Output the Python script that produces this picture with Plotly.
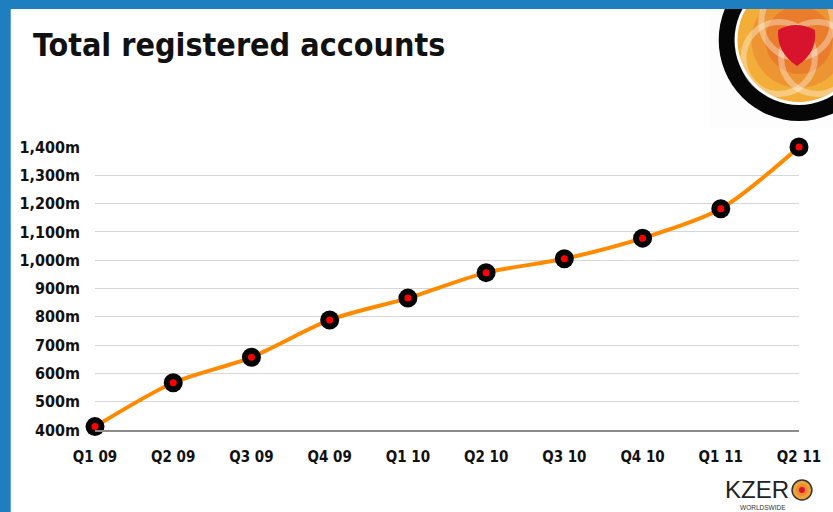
import plotly.graph_objects as go

quarters = ["Q1 09", "Q2 09", "Q3 09", "Q4 09", "Q1 10", "Q2 10", "Q3 10", "Q4 10", "Q1 11", "Q2 11"]
accounts_m = [412, 567, 657, 789, 866, 956, 1005, 1078, 1182, 1400]
y_ticks = [400, 500, 600, 700, 800, 900, 1000, 1100, 1200, 1300, 1400]
y_tick_labels = ["400m", "500m", "600m", "700m", "800m", "900m", "1,000m", "1,100m", "1,200m", "1,300m", "1,400m"]

W, H = 833, 512
L, R, T, B = 95, 28, 147, 82
PW, PH = W - L - R, H - T - B


def px(x):
    return (x - L) / PW


def py(y):
    return (H - B - y) / PH


FONT = "Arial Narrow, Liberation Sans Narrow, DejaVu Sans Condensed, Roboto Condensed, Roboto, sans-serif"

fig = go.Figure()
fig.add_trace(go.Scatter(
    x=quarters, y=accounts_m, mode="lines",
    line=dict(color="#ff8a00", width=4, shape="spline", smoothing=0.8),
    cliponaxis=False, hoverinfo="skip"))
fig.add_trace(go.Scatter(
    x=quarters, y=accounts_m, mode="markers",
    marker=dict(size=19, color="#050505", line=dict(width=0)),
    cliponaxis=False, hoverinfo="skip"))
fig.add_trace(go.Scatter(
    x=quarters, y=accounts_m, mode="markers",
    marker=dict(size=7, color="#ff0000", line=dict(width=0)),
    cliponaxis=False))

shapes = []


def circ(cx, cy, r, fill=None, line=None, lw=0, opacity=1.0, layer="above"):
    d = dict(type="circle", xref="paper", yref="paper",
             x0=px(cx - r), x1=px(cx + r), y0=py(cy + r), y1=py(cy - r),
             opacity=opacity, layer=layer,
             line=dict(width=lw, color=line if line else "rgba(0,0,0,0)"))
    if fill:
        d["fillcolor"] = fill
    shapes.append(d)


# faint logo backdrop
shapes.append(dict(type="rect", xref="paper", yref="paper",
                   x0=px(715), x1=px(840), y0=py(128), y1=py(0),
                   fillcolor="#fdfdfd", line=dict(width=0), layer="below"))
# big logo (top-right)
circ(805, 40, 81, fill="#060606")
circ(805, 40, 65, fill="#ffffff")
circ(805, 40, 62, fill="#f3ae3a")
circ(805, 40, 48, fill="#ee9533")
circ(805, 40, 34, fill="#e97d2c")
circ(803, 22, 36, line="#ffffff", lw=6, opacity=0.35)
circ(785, 58, 36, line="#ffffff", lw=6, opacity=0.35)
circ(823, 58, 36, line="#ffffff", lw=6, opacity=0.35)
# red central lens
shapes.append(dict(type="path", xref="paper", yref="paper",
                   path=(f"M {px(784)},{py(30)} Q {px(802)},{py(20)} {px(821)},{py(30)} "
                         f"Q {px(824)},{py(52)} {px(803)},{py(66)} "
                         f"Q {px(782)},{py(52)} {px(784)},{py(30)} Z"),
                   fillcolor="#d7142b", line=dict(width=0)))
# blue frame
shapes.append(dict(type="rect", xref="paper", yref="paper",
                   x0=px(-5), x1=px(840), y0=py(9), y1=py(-5),
                   fillcolor="#1d7fbf", line=dict(width=0)))
shapes.append(dict(type="rect", xref="paper", yref="paper",
                   x0=px(-5), x1=px(10), y0=py(520), y1=py(-5),
                   fillcolor="#1d7fbf", line=dict(width=0)))
# small KZERO logo "O"
circ(808, 490, 10, fill="#f0a23a", line="#333333", lw=1.5)
circ(808, 490, 6, fill="#ec8a30")
circ(808, 490, 3, fill="#d7142b")

annotations = [
    dict(text="Total registered accounts", xref="paper", yref="paper",
         x=px(30), y=py(45), xanchor="left", yanchor="middle", showarrow=False,
         font=dict(family=FONT, size=32, color="#111111", weight="bold")),
    dict(text="KZER", xref="paper", yref="paper",
         x=px(797), y=py(489), xanchor="right", yanchor="middle", showarrow=False,
         font=dict(family="Liberation Sans", size=24, color="#222222")),
    dict(text="WORLDSWIDE", xref="paper", yref="paper",
         x=px(769), y=py(507), xanchor="center", yanchor="middle", showarrow=False,
         font=dict(family="Liberation Sans", size=6.5, color="#333333")),
]

fig.update_layout(
    width=W, height=H,
    margin=dict(l=L, r=R, t=T, b=B),
    paper_bgcolor="#ffffff", plot_bgcolor="#ffffff",
    showlegend=False,
    shapes=shapes,
    annotations=annotations,
    xaxis=dict(type="category", range=[0, len(quarters) - 1],
               showgrid=False, zeroline=False,
               showline=True, linecolor="#8c8c8c", linewidth=1.5,
               ticks="", ticklabelstandoff=12,
               tickfont=dict(family=FONT, size=15, color="#111111", weight="bold")),
    yaxis=dict(range=[400, 1400], tickvals=y_ticks, ticktext=y_tick_labels,
               showgrid=True, gridcolor="#d6d6d6", gridwidth=1,
               zeroline=False, showline=False, ticks="", ticklabelstandoff=14,
               tickfont=dict(family=FONT, size=16, color="#111111", weight="bold")),
)

post = ("document.body.style.margin='0';document.body.style.overflow='hidden';"
        "var gd=document.getElementById('{plot_id}');"
        "Plotly.relayout(gd,{width:833,height:512});")

fig.write_html("out.html", config={"displayModeBar": False, "responsive": False},
               post_script=post)
